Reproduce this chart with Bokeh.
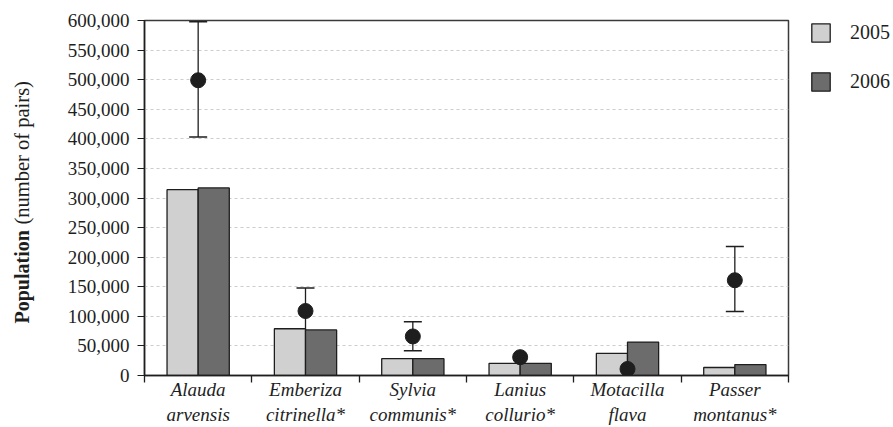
import math
from bokeh.plotting import figure
from bokeh.layouts import row
from bokeh.models import (ColumnDataSource, FixedTicker, NumeralTickFormatter, Whisker,
                          TeeHead, Label, Legend, LegendItem, Range1d)
from bokeh.embed import file_html
from bokeh.resources import INLINE

species = ["Alauda\narvensis", "Emberiza\ncitrinella*", "Sylvia\ncommunis*",
           "Lanius\ncollurio*", "Motacilla\nflava", "Passer\nmontanus*"]
pop_2005 = [314000, 79000, 28500, 20500, 37500, 13500]
pop_2006 = [317000, 77000, 28500, 20500, 56500, 18500]
estimate = [499000, 109000, 66000, 31000, 11000, 161000]
est_low = [403000, 75000, 42000, None, None, 108000]
est_high = [598000, 148000, 91000, None, None, 218000]
y_ticks = [0, 50000, 100000, 150000, 200000, 250000, 300000, 350000,
           400000, 450000, 500000, 550000, 600000]
years = ["2005", "2006"]

FONT = "Liberation Serif"
FS = "19px"
BAR_W = 0.29
C2005 = "#d0d0d0"
C2006 = "#6c6c6c"
INK = "#1e1e1e"

n = len(species)
centers = [i + 0.5 for i in range(n)]

src = ColumnDataSource(dict(
    x05=[c - BAR_W / 2 for c in centers],
    x06=[c + BAR_W / 2 for c in centers],
    xc=centers, p05=pop_2005, p06=pop_2006, est=estimate))

err_idx = [i for i in range(n) if est_low[i] is not None]
err_src = ColumnDataSource(dict(
    x=[centers[i] for i in err_idx],
    lo=[est_low[i] for i in err_idx],
    hi=[est_high[i] for i in err_idx]))

# ---- y-axis title panel (bold + normal part) ----
lab = figure(frame_width=40, frame_height=427, min_border=0,
             x_axis_type=None, y_axis_type=None,
             output_backend="svg", toolbar_location=None)
lab.outline_line_color = None
lab.grid.visible = False
lab.add_layout(Label(x=21, y=124, x_units="screen", y_units="screen", text="Population",
                     angle=math.pi / 2, text_align="left", text_baseline="middle",
                     text_font=FONT, text_font_size="20px", text_font_style="bold",
                     text_color=INK))
lab.add_layout(Label(x=21, y=223, x_units="screen", y_units="screen",
                     text="(number of pairs)", angle=math.pi / 2, text_align="left",
                     text_baseline="middle", text_font=FONT, text_font_size="20.5px",
                     text_color=INK))

# ---- main chart ----
p = figure(frame_width=644, frame_height=355, min_border_left=104, min_border_right=105,
           min_border_top=20, min_border_bottom=52,
           x_range=Range1d(0, n), y_range=Range1d(0, 600000),
           output_backend="svg", toolbar_location=None)
p.background_fill_color = "white"
p.border_fill_color = "white"
p.outline_line_color = "#3a3a3a"
p.outline_line_width = 1.5

r05 = p.vbar(x="x05", top="p05", width=BAR_W, source=src, fill_color=C2005,
             line_color=INK, line_width=1.3)
r06 = p.vbar(x="x06", top="p06", width=BAR_W, source=src, fill_color=C2006,
             line_color=INK, line_width=1.3)

wh = Whisker(base="x", lower="lo", upper="hi", source=err_src, dimension="height",
             line_color=INK, line_width=1.3,
             upper_head=TeeHead(size=18, line_color=INK, line_width=1.5),
             lower_head=TeeHead(size=18, line_color=INK, line_width=1.5))
p.add_layout(wh)
p.scatter(x="xc", y="est", source=src, size=15, color=INK)

xa = p.xaxis[0]
xa.ticker = FixedTicker(ticks=centers, minor_ticks=list(range(n + 1)))
xa.major_label_overrides = {c: s for c, s in zip(centers, species)}
xa.major_tick_out = 0
xa.major_tick_in = 0
xa.minor_tick_out = 7
xa.minor_tick_in = 0
xa.minor_tick_line_color = INK
xa.minor_tick_line_width = 1.3
xa.axis_line_color = INK
xa.axis_line_width = 1.5
xa.major_label_text_font = FONT
xa.major_label_text_font_size = FS
xa.major_label_text_font_style = "italic"
xa.major_label_text_color = INK
xa.major_label_standoff = -4

ya = p.yaxis[0]
ya.ticker = FixedTicker(ticks=y_ticks, minor_ticks=[])
ya.formatter = NumeralTickFormatter(format="0,0")
ya.major_tick_out = 7
ya.major_tick_in = 0
ya.major_tick_line_color = INK
ya.axis_line_color = INK
ya.axis_line_width = 1.5
ya.major_label_text_font = FONT
ya.major_label_text_font_size = FS
ya.major_label_text_color = INK
ya.major_label_standoff = 8

p.xgrid.grid_line_color = None
p.ygrid.grid_line_color = "#cccccc"
p.ygrid.grid_line_dash = "3 3"

legend = Legend(items=[LegendItem(label=years[0], renderers=[r05]),
                       LegendItem(label=years[1], renderers=[r06])],
                location=(21, 282), glyph_width=23, glyph_height=23, spacing=26,
                label_standoff=18, padding=0, margin=0, border_line_color=None,
                background_fill_alpha=0, label_text_font=FONT,
                label_text_font_size="20px", label_text_color=INK)
p.add_layout(legend, "right")

layout = row(lab, p, spacing=0)
open("out.html", "w").write(file_html(layout, INLINE))
